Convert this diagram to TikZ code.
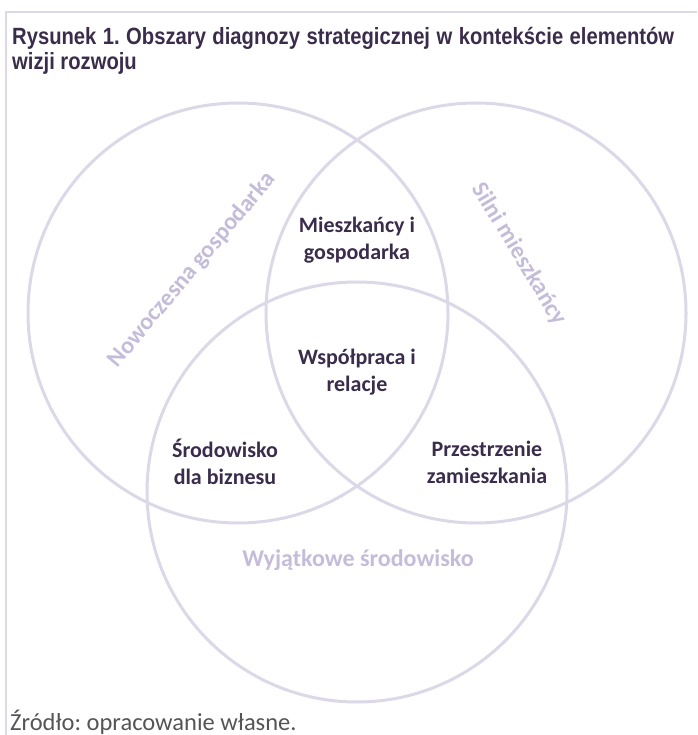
\documentclass[tikz,border=0pt]{standalone}
\usepackage{fontspec}
\usepackage{tikz}
\newfontfamily\titlefont[FakeStretch=0.86]{Liberation Sans}
\newfontfamily\calfont{Carlito}
\definecolor{ringc}{HTML}{DCD8E8}
\definecolor{areac}{HTML}{C4BCD9}
\definecolor{ink}{HTML}{3A2C4B}
\definecolor{note}{HTML}{555555}
\tikzset{ring/.style={circle,draw=ringc,line width=3pt,minimum size=420pt,inner sep=0pt}}
\tikzset{a/.style={font=\calfont\bfseries\fontsize{24}{30}\selectfont,text=areac,inner sep=0pt}}
\tikzset{j/.style={font=\calfont\bfseries\fontsize{22}{27}\selectfont,text=ink,align=center,inner sep=0pt}}

\begin{document}
\frenchspacing
\begin{tikzpicture}[x=1pt,y=-1pt]
      \useasboundingbox (0,0) rectangle (697,735);
      \draw[ringc,line width=2pt] (6,735) -- (6,12) -- (697,12);
      \node[anchor=north west,inner sep=0pt,text width=662pt,align=justify,text=ink,
        font=\titlefont\bfseries\fontsize{23.5}{25}\selectfont] (title) at (12,27)
        {Rysunek 1. Obszary diagnozy strategicznej w kontekście elementów wizji rozwoju};
      \node[ring] (L) at (238,313) {};
      \node[ring] (R) at (476,313) {};
      \node[ring] (B) at (357,492) {};
      \node[a,rotate=50] (LL) at (192,270) {Nowoczesna gospodarka};
      \node[a,rotate=-59] (RL) at (519,254) {Silni mieszkańcy};
      \node[a] (BL) at (358,560) {Wyjątkowe środowisko};
      \node[j] (LR) at (357,240) {Mieszkańcy i\\gospodarka};
      \node[j] (LRB) at (357,372) {Współpraca i\\relacje};
      \node[j] (LB) at (225,462) {Środowisko\\dla biznesu};
      \node[j] (RB) at (487,462) {Przestrzenie\\zamieszkania};
      \node[anchor=west,inner sep=0pt,text=note,font=\calfont\fontsize{24.5}{28}\selectfont]
        (src) at (10,722) {Źródło: opracowanie własne.};
\end{tikzpicture}
\end{document}
